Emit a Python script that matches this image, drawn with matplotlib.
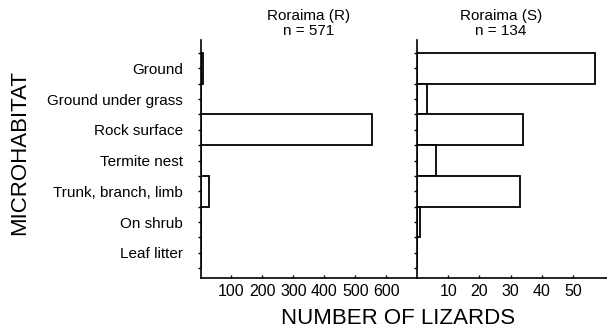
import numpy as np
import matplotlib.pyplot as plt

plt.rcParams['font.family'] = ['Liberation Sans', 'DejaVu Sans']

# 微生境类别
habitats = ["Ground", "Ground under grass", "Rock surface", "Termite nest",
            "Trunk, branch, limb", "On shrub", "Leaf litter"]
# 两个样点的蜥蜴数量
counts_r = [8, 0, 553, 0, 26, 0, 3]
counts_s = [57, 3, 34, 6, 33, 1, 0]
ticks_r = [100, 200, 300, 400, 500, 600]
ticks_s = [10, 20, 30, 40, 50]

fig = plt.figure(figsize=(6.07, 3.33), dpi=100)
ax1 = fig.add_axes([200.5 / 607, 55 / 333, 216.8 / 607, 238 / 333])
ax2 = fig.add_axes([417.3 / 607, 55 / 333, 189.7 / 607, 238 / 333])

y = np.arange(len(habitats))

for ax, counts, ticks, xmax in [(ax1, counts_r, ticks_r, 700), (ax2, counts_s, ticks_s, 61)]:
    ax.barh(y, counts, height=1.0, color="white", edgecolor="black", linewidth=1.3)
    ax.set_xlim(0, xmax)
    ax.set_ylim(6.82, -0.92)
    ax.set_xticks(ticks)
    ax.set_yticks(y)
    ax.set_yticks(np.arange(-0.5, 7, 1.0), minor=True)
    ax.spines["top"].set_visible(False)
    ax.spines["right"].set_visible(False)
    ax.spines["left"].set_linewidth(1.2)
    ax.spines["bottom"].set_linewidth(1.2)
    ax.tick_params(axis="x", direction="in", length=2, width=1, labelsize=11.5, pad=4)
    ax.tick_params(axis="y", which="both", direction="out", length=2.5, width=1)

ax1.set_yticklabels(habitats, fontsize=11)
ax1.tick_params(axis="y", pad=10)
ax2.set_yticklabels([])

ax1.text(0.5, 1.01, "Roraima (R)\nn = 571", transform=ax1.transAxes,
         ha="center", va="bottom", fontsize=11, linespacing=1.05)
ax2.text(0.44, 1.01, "Roraima (S)\nn = 134", transform=ax2.transAxes,
         ha="center", va="bottom", fontsize=11, linespacing=1.05)

fig.text(398 / 607, 15 / 333, "NUMBER OF LIZARDS", ha="center", va="center", fontsize=16)
fig.text(19.5 / 607, 180.5 / 333, "MICROHABITAT", ha="center", va="center",
         rotation=90, fontsize=16)

fig.savefig("out.png", dpi=100)
